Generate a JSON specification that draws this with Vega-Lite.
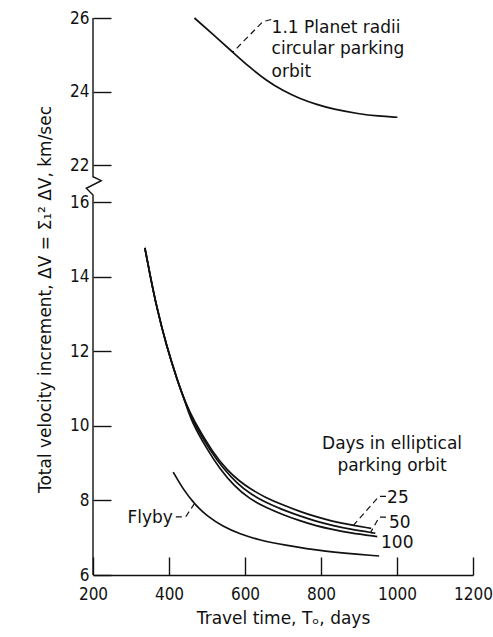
{
  "$schema": "https://vega.github.io/schema/vega-lite/v6.json",
  "width": 380,
  "height": 557,
  "autosize": {"type": "none"},
  "padding": {"left": 93, "top": 18, "right": 20, "bottom": 62},
  "background": "white",
  "config": {
    "font": "DejaVu Sans",
    "view": {"stroke": null},
    "axis": {
      "labelFont": "DejaVu Sans Condensed, DejaVu Sans",
      "titleFont": "DejaVu Sans",
      "labelFontSize": 17,
      "titleFontSize": 17,
      "titleFontWeight": "normal",
      "labelColor": "#111",
      "titleColor": "#111",
      "tickColor": "#111",
      "domainColor": "#111",
      "tickWidth": 1.4,
      "domainWidth": 1.3,
      "labelFlush": false,
      "grid": false
    }
  },
  "datasets": {
    "curves": [
      {"series": "circular", "days": 467, "dv": 26.0},
      {"series": "circular", "days": 516, "dv": 25.55},
      {"series": "circular", "days": 568, "dv": 25.07},
      {"series": "circular", "days": 612, "dv": 24.66},
      {"series": "circular", "days": 656, "dv": 24.3},
      {"series": "circular", "days": 700, "dv": 24.02},
      {"series": "circular", "days": 743, "dv": 23.81},
      {"series": "circular", "days": 790, "dv": 23.64},
      {"series": "circular", "days": 831, "dv": 23.52},
      {"series": "circular", "days": 900, "dv": 23.39},
      {"series": "circular", "days": 950, "dv": 23.33},
      {"series": "circular", "days": 1001, "dv": 23.3},

      {"series": "25", "days": 336.5, "dv": 14.77},
      {"series": "25", "days": 350, "dv": 14.05},
      {"series": "25", "days": 367, "dv": 13.2},
      {"series": "25", "days": 393, "dv": 12.15},
      {"series": "25", "days": 424, "dv": 11.15},
      {"series": "25", "days": 442, "dv": 10.66},
      {"series": "25", "days": 463, "dv": 10.17},
      {"series": "25", "days": 516, "dv": 9.27},
      {"series": "25", "days": 554, "dv": 8.8},
      {"series": "25", "days": 585, "dv": 8.52},
      {"series": "25", "days": 612, "dv": 8.32},
      {"series": "25", "days": 655, "dv": 8.07},
      {"series": "25", "days": 699, "dv": 7.88},
      {"series": "25", "days": 745, "dv": 7.7},
      {"series": "25", "days": 787, "dv": 7.56},
      {"series": "25", "days": 830, "dv": 7.44},
      {"series": "25", "days": 874, "dv": 7.35},
      {"series": "25", "days": 932, "dv": 7.25},

      {"series": "50", "days": 336.5, "dv": 14.77},
      {"series": "50", "days": 350, "dv": 14.05},
      {"series": "50", "days": 367, "dv": 13.2},
      {"series": "50", "days": 393, "dv": 12.15},
      {"series": "50", "days": 424, "dv": 11.15},
      {"series": "50", "days": 442, "dv": 10.66},
      {"series": "50", "days": 461, "dv": 10.14},
      {"series": "50", "days": 509, "dv": 9.32},
      {"series": "50", "days": 544, "dv": 8.84},
      {"series": "50", "days": 580, "dv": 8.45},
      {"series": "50", "days": 612, "dv": 8.19},
      {"series": "50", "days": 655, "dv": 7.94},
      {"series": "50", "days": 699, "dv": 7.75},
      {"series": "50", "days": 745, "dv": 7.58},
      {"series": "50", "days": 787, "dv": 7.44},
      {"series": "50", "days": 830, "dv": 7.33},
      {"series": "50", "days": 874, "dv": 7.23},
      {"series": "50", "days": 943, "dv": 7.12},

      {"series": "100", "days": 336.5, "dv": 14.77},
      {"series": "100", "days": 350, "dv": 14.05},
      {"series": "100", "days": 367, "dv": 13.2},
      {"series": "100", "days": 393, "dv": 12.15},
      {"series": "100", "days": 424, "dv": 11.15},
      {"series": "100", "days": 442, "dv": 10.66},
      {"series": "100", "days": 459, "dv": 10.11},
      {"series": "100", "days": 502, "dv": 9.34},
      {"series": "100", "days": 533, "dv": 8.86},
      {"series": "100", "days": 570, "dv": 8.4},
      {"series": "100", "days": 612, "dv": 8.04},
      {"series": "100", "days": 655, "dv": 7.81},
      {"series": "100", "days": 699, "dv": 7.62},
      {"series": "100", "days": 745, "dv": 7.45},
      {"series": "100", "days": 787, "dv": 7.32},
      {"series": "100", "days": 830, "dv": 7.22},
      {"series": "100", "days": 874, "dv": 7.13},
      {"series": "100", "days": 948, "dv": 7.03},

      {"series": "flyby", "days": 411, "dv": 8.76},
      {"series": "flyby", "days": 437, "dv": 8.3},
      {"series": "flyby", "days": 468, "dv": 7.89},
      {"series": "flyby", "days": 500, "dv": 7.58},
      {"series": "flyby", "days": 542, "dv": 7.3},
      {"series": "flyby", "days": 586, "dv": 7.1},
      {"series": "flyby", "days": 640, "dv": 6.93},
      {"series": "flyby", "days": 700, "dv": 6.81},
      {"series": "flyby", "days": 805, "dv": 6.63},
      {"series": "flyby", "days": 953, "dv": 6.51}
    ],
    "leaders": [
      {"leader": "circular", "step": 1, "days": 669, "dv": 25.96},
      {"leader": "circular", "step": 2, "days": 647, "dv": 25.9},
      {"leader": "circular", "step": 3, "days": 568, "dv": 25.07},
      {"leader": "25", "step": 1, "days": 971, "dv": 8.11},
      {"leader": "25", "step": 2, "days": 953, "dv": 8.11},
      {"leader": "25", "step": 3, "days": 885, "dv": 7.33},
      {"leader": "50", "step": 1, "days": 971, "dv": 7.55},
      {"leader": "50", "step": 2, "days": 953, "dv": 7.55},
      {"leader": "50", "step": 3, "days": 931, "dv": 7.15},
      {"leader": "flyby", "step": 1, "days": 418, "dv": 7.56},
      {"leader": "flyby", "step": 2, "days": 444, "dv": 7.56},
      {"leader": "flyby", "step": 3, "days": 466, "dv": 7.9}
    ],
    "yaxisline": [
      {"step": 1, "days": 200, "dv": 26},
      {"step": 2, "days": 200, "dv": 20.1},
      {"step": 3, "days": 221.8, "dv": 19.45},
      {"step": 4, "days": 182.4, "dv": 18.22},
      {"step": 5, "days": 200, "dv": 17.14},
      {"step": 6, "days": 200, "dv": 6}
    ],
    "labels": [
      {"text": "1.1 Planet radii", "anchor": "left", "days": 670, "dv": 25.59},
      {"text": "circular parking", "anchor": "left", "days": 670, "dv": 25.02},
      {"text": "orbit", "anchor": "left", "days": 670, "dv": 24.39},
      {"text": "Days in elliptical", "anchor": "center", "days": 987, "dv": 9.37},
      {"text": "parking orbit", "anchor": "center", "days": 987, "dv": 8.79},
      {"text": "25", "anchor": "left", "days": 974, "dv": 7.93},
      {"text": "50", "anchor": "left", "days": 979, "dv": 7.26},
      {"text": "100", "anchor": "left", "days": 958, "dv": 6.72},
      {"text": "Flyby", "anchor": "right", "days": 410, "dv": 7.39}
    ]
  },
  "encoding": {
    "x": {
      "field": "days",
      "type": "quantitative",
      "scale": {"domain": [200, 1200], "nice": false, "zero": false},
      "axis": {
        "values": [200, 400, 600, 800, 1000, 1200],
        "format": "d",
        "tickSize": -18,
        "labelPadding": 42,
        "labelBaseline": "alphabetic",
        "title": "Travel time, Tₒ, days",
        "titleX": 190,
        "titleY": 48,
        "titleBaseline": "alphabetic"
      }
    },
    "y": {
      "field": "dv",
      "type": "quantitative",
      "scale": {"domain": [6, 16, 22, 26], "range": [557, 184, 147, 0], "nice": false, "zero": false},
      "axis": {
        "values": [6, 8, 10, 12, 14, 16, 22, 24, 26],
        "domain": false,
        "tickSize": -18,
        "labelPadding": 22,
        "title": "Total velocity increment,  ΔV = Σ₁² ΔV,  km/sec",
        "titleX": -43,
        "titleY": 281,
        "titleBaseline": "alphabetic"
      }
    }
  },
  "layer": [
    {
      "data": {"name": "yaxisline"},
      "mark": {"type": "line", "color": "#111", "strokeWidth": 1.4, "clip": false},
      "encoding": {"order": {"field": "step", "type": "quantitative"}}
    },
    {
      "data": {"name": "curves"},
      "mark": {"type": "line", "color": "#111", "strokeWidth": 1.7, "interpolate": "basis"},
      "encoding": {"detail": {"field": "series", "type": "nominal"}}
    },
    {
      "data": {"name": "leaders"},
      "mark": {"type": "line", "color": "#111", "strokeWidth": 1.2, "strokeDash": [6, 4]},
      "encoding": {
        "detail": {"field": "leader", "type": "nominal"},
        "order": {"field": "step", "type": "quantitative"}
      }
    },
    {
      "data": {"name": "labels"},
      "transform": [{"filter": "datum.anchor === 'left'"}],
      "mark": {"type": "text", "align": "left", "baseline": "alphabetic", "fontSize": 17, "color": "#111"},
      "encoding": {"text": {"field": "text"}}
    },
    {
      "data": {"name": "labels"},
      "transform": [{"filter": "datum.anchor === 'center'"}],
      "mark": {"type": "text", "align": "center", "baseline": "alphabetic", "fontSize": 17, "color": "#111"},
      "encoding": {"text": {"field": "text"}}
    },
    {
      "data": {"name": "labels"},
      "transform": [{"filter": "datum.anchor === 'right'"}],
      "mark": {"type": "text", "align": "right", "baseline": "alphabetic", "fontSize": 17, "color": "#111"},
      "encoding": {"text": {"field": "text"}}
    }
  ]
}
